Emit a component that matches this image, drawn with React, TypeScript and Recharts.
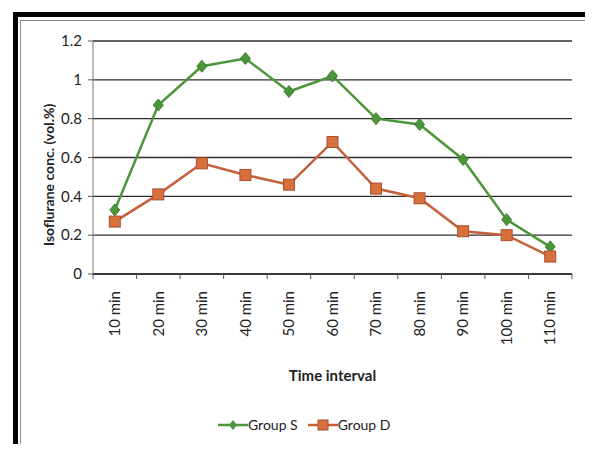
import React from 'react';
import { LineChart, Line, XAxis, YAxis, CartesianGrid, Label } from 'recharts';

const timeLabels = ['10 min', '20 min', '30 min', '40 min', '50 min', '60 min', '70 min', '80 min', '90 min', '100 min', '110 min'];
const groupS = [0.33, 0.87, 1.07, 1.11, 0.94, 1.02, 0.8, 0.77, 0.59, 0.28, 0.14];
const groupD = [0.27, 0.41, 0.57, 0.51, 0.46, 0.68, 0.44, 0.39, 0.22, 0.2, 0.09];
const yTicks = [0, 0.2, 0.4, 0.6, 0.8, 1, 1.2];

const data = timeLabels.map((t, i) => ({ t, s: groupS[i], d: groupD[i] }));

const W = 593;
const H = 452;
const TOP = 41;
const AXIS_W = 93;
const X_AXIS_H = 178;
const RIGHT = 21;
const STEP = (W - AXIS_W - RIGHT) / timeLabels.length;

const FONT = 'Lato, "Open Sans", Arial, sans-serif';
const GREEN = '#4b963a';
const ORANGE = '#c4603a';

const Diamond = ({ cx, cy }: any) => (
  <path
    d={`M${cx},${cy - 6} L${cx + 5},${cy} L${cx},${cy + 6} L${cx - 5},${cy} Z`}
    fill={GREEN}
    stroke="#3f7f2e"
    strokeWidth={1}
  />
);

const Square = ({ cx, cy }: any) => (
  <rect x={cx - 5.5} y={cy - 5.5} width={11} height={11} fill="#d8703e" stroke="#a94f2c" strokeWidth={1} />
);

// category labels turned upright, with tick marks on the band edges
const TimeTick = ({ x, y, payload, index }: any) => (
  <g>
    <line x1={x - STEP / 2} y1={y} x2={x - STEP / 2} y2={y + 5} stroke="#555" strokeWidth={1} />
    {index === timeLabels.length - 1 && (
      <line x1={x + STEP / 2} y1={y} x2={x + STEP / 2} y2={y + 5} stroke="#555" strokeWidth={1} />
    )}
    <text
      x={x}
      y={y + 17}
      dy="0.35em"
      textAnchor="end"
      transform={`rotate(-90, ${x}, ${y + 17})`}
      fontFamily={FONT}
      fontSize={15}
      fill="#222"
    >
      {payload.value}
    </text>
  </g>
);

// vertical axis title, reading upward from just above the zero line
const YTitle = ({ viewBox }: any) => {
  const cx = 48;
  const cy = viewBox.y + viewBox.height - 28;
  return (
    <text
      x={cx}
      y={cy}
      textAnchor="start"
      dominantBaseline="central"
      transform={`rotate(-90, ${cx}, ${cy})`}
      fontFamily={FONT}
      fontSize={14}
      fontWeight={700}
      fill="#222"
    >
      Isoflurane conc. (vol.%)
    </text>
  );
};

const LegendItem = ({ color, name, square }: { color: string; name: string; square?: boolean }) => (
  <span style={{ display: 'inline-flex', alignItems: 'center', marginRight: 10 }}>
    <svg width={30} height={14}>
      <line x1={0} y1={7} x2={30} y2={7} stroke={color} strokeWidth={2.5} />
      {square ? (
        <rect x={10} y={2} width={10} height={10} fill="#d8703e" stroke="#a94f2c" />
      ) : (
        <path d="M15,2 L19,7 L15,12 L11,7 Z" fill={GREEN} />
      )}
    </svg>
    <span>{name}</span>
  </span>
);

export default function App() {
  return (
    <div style={{ position: 'relative', width: W, height: H, margin: -8, background: '#fff', overflow: 'hidden' }}>
      <div
        style={{
          position: 'absolute',
          left: 13,
          top: 12,
          right: 0,
          bottom: -20,
          border: '5px solid #000',
        }}
      />
      <div
        style={{
          position: 'absolute',
          left: 20,
          top: 20,
          right: 6,
          bottom: 2,
          border: '1px solid #8a8a8a',
        }}
      />
      <div style={{ position: 'absolute', left: 0, top: 0 }}>
        <LineChart width={W} height={H} data={data} margin={{ top: TOP, right: RIGHT, left: 0, bottom: 0 }}>
          <CartesianGrid vertical={false} stroke="#2e2e2e" strokeWidth={1.4} />
          <XAxis
            dataKey="t"
            scale="band"
            height={X_AXIS_H}
            tickSize={0}
            tickMargin={0}
            tickLine={false}
            interval={0}
            axisLine={{ stroke: '#2e2e2e', strokeWidth: 1.4 }}
            tick={<TimeTick />}
          >
            <Label
              value="Time interval"
              position="insideTop"
              offset={96}
              style={{ fontFamily: FONT, fontSize: 15, fontWeight: 700, fill: '#222' }}
            />
          </XAxis>
          <YAxis
            width={AXIS_W}
            domain={[0, 1.2]}
            ticks={yTicks}
            tickSize={5}
            tickMargin={6}
            axisLine={{ stroke: '#777' }}
            tickLine={{ stroke: '#555' }}
            tick={{ fontFamily: FONT, fontSize: 15, fill: '#222' }}
          >
            <Label content={<YTitle />} />
          </YAxis>
          <Line dataKey="s" name="Group S" stroke={GREEN} strokeWidth={2.5} dot={<Diamond />} isAnimationActive={false} />
          <Line dataKey="d" name="Group D" stroke={ORANGE} strokeWidth={2.5} dot={<Square />} isAnimationActive={false} />
        </LineChart>
      </div>
      <div
        style={{
          position: 'absolute',
          left: 218,
          top: 416,
          display: 'flex',
          fontFamily: FONT,
          fontSize: 14,
          color: '#222',
          whiteSpace: 'nowrap',
        }}
      >
        <LegendItem color={GREEN} name="Group S" />
        <LegendItem color={ORANGE} name="Group D" square />
      </div>
    </div>
  );
}
